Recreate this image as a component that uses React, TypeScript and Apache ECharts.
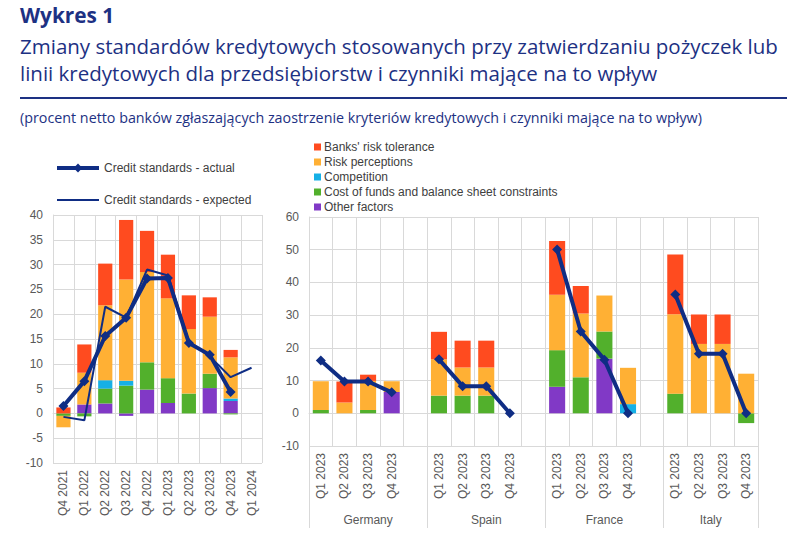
import React, { useEffect, useRef } from "react";
import * as echarts from "echarts";

const leftCats = ["Q4 2021", "Q1 2022", "Q2 2022", "Q3 2022", "Q4 2022", "Q1 2023", "Q2 2023", "Q3 2023", "Q4 2023", "Q1 2024"];
const leftOther = [null, 1.8, 2.0, -0.5, 4.8, 2.1, null, 5.1, 2.5, null];
const leftCost = [-0.5, -0.6, 3.0, 5.6, 5.5, 5.0, 4.0, 2.9, -0.2, null];
const leftCompetition = [null, null, 1.7, 1.0, null, null, null, null, 0.5, null];
const leftRiskPerc = [-2.3, 6.4, 15.1, 20.4, 18.2, 16.1, 13.0, 11.5, 8.3, null];
const leftRiskTol = [1.2, 5.7, 8.4, 12.0, 8.3, 8.8, 6.8, 3.9, 1.5, null];
const leftActual = [1.5, 6.5, 15.6, 19.3, 27.2, 27.3, 14.2, 11.8, 4.3, null];
const leftExpected = [-0.7, -1.4, 21.5, 19.3, 29.0, 27.8, 14.5, 11.5, 7.3, 9.2];

const rightCats = [
  "Q1 2023", "Q2 2023", "Q3 2023", "Q4 2023", "",
  "Q1 2023", "Q2 2023", "Q3 2023", "Q4 2023", "",
  "Q1 2023", "Q2 2023", "Q3 2023", "Q4 2023", "",
  "Q1 2023", "Q2 2023", "Q3 2023", "Q4 2023",
];
const countries = ["Germany", "Spain", "France", "Italy"];
const countryCenters = [2.5, 7.5, 12.5, 17];
const countryBounds = [0, 5, 10, 15, 19];
const rightOther = [null, null, null, 6.5, null, null, null, null, null, null, 8.1, null, 16.7, null, null, null, null, null, null];
const rightCost = [1.0, null, 1.0, null, null, 5.4, 5.4, 5.4, null, null, 11.2, 11.0, 8.3, null, null, 6.0, null, null, -3.0];
const rightCompetition = [null, null, null, null, null, null, null, null, null, null, null, null, null, 2.8, null, null, null, null, null];
const rightRiskPerc = [8.8, 3.3, 8.9, 3.3, null, 11.1, 8.6, 8.6, null, null, 16.9, 19.5, 11.0, 11.1, null, 24.3, 21.2, 21.2, 12.1];
const rightRiskTol = [null, 6.4, 1.9, null, null, 8.4, 8.2, 8.2, null, null, 16.5, 8.4, null, null, null, 18.2, 9.0, 9.0, null];
const rightActual = [16.1, 9.7, 9.7, 6.4, null, 16.5, 8.3, 8.3, 0, null, 50.1, 25.0, 16.4, 0, null, 36.3, 18.2, 18.2, 0];

const NAMES = {
  tol: "Banks' risk tolerance",
  perc: "Risk perceptions",
  comp: "Competition",
  cost: "Cost of funds and balance sheet constraints",
  other: "Other factors",
  actual: "Credit standards - actual",
  expected: "Credit standards - expected",
};
const COLORS = {
  tol: "#ff4b1f",
  perc: "#ffb034",
  comp: "#16b0e6",
  cost: "#52b02c",
  other: "#8139c6",
  line: "#0f2d84",
};
const NAVY = "#1d3183";
const AXIS_TXT = "#595959";
const GRID = "#d9d9d9";
const AFONT = '"Liberation Sans", Arial, sans-serif';

export default function App() {
  const ref = useRef<HTMLDivElement>(null);
  useEffect(() => {
    document.body.style.margin = "0";
    const chart = echarts.init(ref.current!, null, { renderer: "svg" });
    const barSeries = (key: string, data: any[], gi: number) => ({
      type: "bar",
      name: (NAMES as any)[key],
      xAxisIndex: gi,
      yAxisIndex: gi,
      stack: gi === 0 ? "L" : "R",
      barCategoryGap: "32%",
      itemStyle: { color: (COLORS as any)[key] },
      data,
    });
    const catAxis = (gi: number, data: string[]) => ({
      type: "category",
      gridIndex: gi,
      data,
      axisLine: { lineStyle: { color: GRID } },
      axisTick: { show: false },
      splitLine: { show: true, interval: 0, lineStyle: { color: GRID } },
      axisLabel: { rotate: 90, interval: 0, color: AXIS_TXT, fontSize: 12, fontFamily: AFONT, margin: 7 },
    });
    const valAxis = (gi: number, min: number, max: number, interval: number) => ({
      type: "value",
      gridIndex: gi,
      min,
      max,
      interval,
      axisLine: { show: true, lineStyle: { color: GRID } },
      axisTick: { show: false },
      splitLine: { show: true, lineStyle: { color: GRID } },
      axisLabel: { color: AXIS_TXT, fontSize: 12, fontFamily: AFONT, margin: 10 },
    });
    chart.setOption({
      animation: false,
      graphic: [
        { type: "text", x: 20, y: 15, style: { text: "Wykres 1", fill: NAVY, font: 'bold 20.8px "Open Sans"', verticalAlign: "middle" } },
        { type: "text", x: 20, y: 46, style: { text: "Zmiany standardów kredytowych stosowanych przy zatwierdzaniu pożyczek lub", fill: NAVY, font: '20.5px "Open Sans"', verticalAlign: "middle" } },
        { type: "text", x: 20, y: 73, style: { text: "linii kredytowych dla przedsiębiorstw i czynniki mające na to wpływ", fill: NAVY, font: '20.5px "Open Sans"', verticalAlign: "middle" } },
        { type: "line", shape: { x1: 20, y1: 98, x2: 787, y2: 98 }, style: { stroke: NAVY, lineWidth: 2 } },
        { type: "text", x: 20, y: 117, style: { text: "(procent netto banków zgłaszających zaostrzenie kryteriów kredytowych i czynniki mające na to wpływ)", fill: NAVY, font: '14.3px "Open Sans"', verticalAlign: "middle" } },
      ],
      legend: [
        {
          data: [
            { name: NAMES.actual, lineStyle: { width: 4 } },
            { name: NAMES.expected, lineStyle: { width: 2 }, itemStyle: { color: "transparent", borderWidth: 0 } },
          ],
          orient: "vertical",
          left: 55,
          top: 162,
          padding: 0,
          itemWidth: 42,
          itemHeight: 11,
          itemGap: 20,
          textStyle: { color: "#404040", fontSize: 12, fontFamily: AFONT },
        },
        {
          data: [NAMES.tol, NAMES.perc, NAMES.comp, NAMES.cost, NAMES.other],
          orient: "vertical",
          left: 314,
          top: 141,
          padding: 0,
          icon: "rect",
          itemWidth: 7,
          itemHeight: 7,
          itemGap: 3,
          textStyle: { color: "#404040", fontSize: 12, fontFamily: AFONT, lineHeight: 12, padding: [0, 0, 0, -2] },
        },
      ],
      grid: [
        { left: 53, right: 538, top: 215, bottom: 77 },
        { left: 309, right: 42, top: 217, bottom: 94 },
      ],
      xAxis: [
        catAxis(0, leftCats),
        catAxis(1, rightCats),
        {
          type: "value",
          gridIndex: 1,
          min: 0,
          max: 19,
          position: "bottom",
          axisLine: { show: false },
          splitLine: { show: false },
          axisTick: { show: true, customValues: countryBounds, length: 82, lineStyle: { color: GRID } },
          axisLabel: {
            customValues: countryCenters,
            margin: 68,
            color: AXIS_TXT,
            fontSize: 12,
            fontFamily: AFONT,
            formatter: (v: number) => {
              const i = countryCenters.indexOf(v);
              return i >= 0 ? countries[i] : "";
            },
          },
        },
      ],
      yAxis: [valAxis(0, -10, 40, 5), valAxis(1, -10, 60, 10)],
      series: [
        barSeries("other", leftOther, 0),
        barSeries("cost", leftCost, 0),
        barSeries("comp", leftCompetition, 0),
        barSeries("perc", leftRiskPerc, 0),
        barSeries("tol", leftRiskTol, 0),
        barSeries("other", rightOther, 1),
        barSeries("cost", rightCost, 1),
        barSeries("comp", rightCompetition, 1),
        barSeries("perc", rightRiskPerc, 1),
        barSeries("tol", rightRiskTol, 1),
        {
          type: "line",
          name: NAMES.actual,
          xAxisIndex: 0,
          yAxisIndex: 0,
          data: leftActual,
          symbol: "diamond",
          symbolSize: 10,
          z: 5,
          lineStyle: { color: COLORS.line, width: 4 },
          itemStyle: { color: COLORS.line },
        },
        {
          type: "line",
          name: NAMES.expected,
          xAxisIndex: 0,
          yAxisIndex: 0,
          data: leftExpected,
          symbol: "none",
          z: 6,
          lineStyle: { color: COLORS.line, width: 2 },
          itemStyle: { color: COLORS.line },
        },
        {
          type: "line",
          name: NAMES.actual,
          xAxisIndex: 1,
          yAxisIndex: 1,
          data: rightActual,
          symbol: "diamond",
          symbolSize: 10,
          connectNulls: false,
          z: 5,
          lineStyle: { color: COLORS.line, width: 4 },
          itemStyle: { color: COLORS.line },
        },
      ],
    });
    return () => chart.dispose();
  }, []);
  return <div ref={ref} style={{ width: 800, height: 540 }} />;
}
